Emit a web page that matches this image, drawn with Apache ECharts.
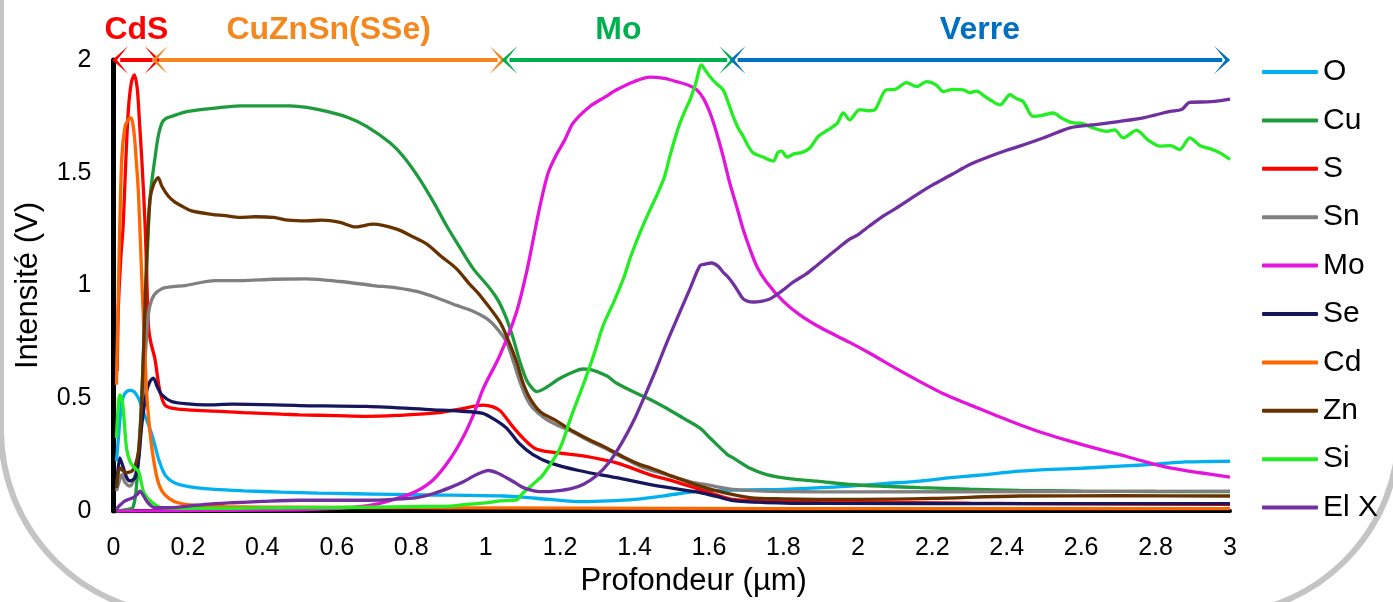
<!DOCTYPE html>
<html>
<head>
<meta charset="utf-8">
<script src="https://cdn.jsdelivr.net/npm/echarts@6/dist/echarts.min.js"></script>
<style>
  html, body { margin: 0; padding: 0; background: #fff; }
  #chart { width: 1393px; height: 602px; }
</style>
</head>
<body>
<div id="chart"></div>
<script>
// profondeur (µm) / intensité (V)
const elements = ['O', 'Cu', 'S', 'Sn', 'Mo', 'Se', 'Cd', 'Zn', 'Si', 'El X']

const oData = [[0.008,0.22],[0.015,0.36],[0.022,0.48],[0.03,0.52],[0.044,0.535],[0.055,0.53],[0.062,0.515],[0.07,0.49],[0.08,0.44],[0.09,0.40],[0.1,0.355],[0.11,0.30],[0.12,0.236],[0.13,0.19],[0.138,0.162],[0.15,0.14],[0.165,0.125],[0.183,0.115],[0.22,0.104],[0.273,0.096],[0.35,0.09],[0.45,0.084],[0.55,0.08],[0.65,0.077],[0.75,0.074],[0.86,0.071],[0.95,0.07],[1.05,0.067],[1.1,0.062],[1.17,0.052],[1.26,0.042],[1.33,0.045],[1.4,0.052],[1.48,0.068],[1.576,0.089],[1.7,0.094],[1.8,0.096],[1.9,0.104],[1.98,0.111],[2.07,0.122],[2.167,0.133],[2.25,0.148],[2.33,0.16],[2.435,0.177],[2.52,0.185],[2.6,0.19],[2.704,0.199],[2.8,0.208],[2.88,0.218],[2.95,0.22],[3.0,0.221]]

const cuData = [[0.008,0.0],[0.03,0.005],[0.045,0.01],[0.052,0.015],[0.06,0.08],[0.067,0.236],[0.075,0.48],[0.08,0.677],[0.087,0.98],[0.094,1.265],[0.1,1.42],[0.111,1.56],[0.12,1.66],[0.13,1.72],[0.14,1.74],[0.156,1.75],[0.2,1.772],[0.273,1.787],[0.34,1.797],[0.4,1.797],[0.474,1.797],[0.52,1.79],[0.573,1.772],[0.63,1.745],[0.68,1.706],[0.743,1.633],[0.78,1.57],[0.823,1.471],[0.86,1.37],[0.895,1.265],[0.93,1.17],[0.967,1.074],[1.012,0.986],[1.035,0.93],[1.056,0.853],[1.075,0.76],[1.092,0.662],[1.11,0.58],[1.125,0.545],[1.137,0.53],[1.16,0.545],[1.2,0.589],[1.24,0.62],[1.262,0.63],[1.28,0.628],[1.325,0.6],[1.352,0.567],[1.415,0.515],[1.442,0.495],[1.486,0.456],[1.531,0.412],[1.576,0.368],[1.603,0.324],[1.65,0.25],[1.665,0.236],[1.71,0.19],[1.755,0.162],[1.82,0.143],[1.89,0.133],[1.978,0.118],[2.07,0.11],[2.167,0.104],[2.3,0.097],[2.435,0.092],[2.6,0.089],[2.8,0.087],[3.0,0.086]]

const sData = [[0.01,0.62],[0.013,0.9],[0.02,1.13],[0.026,1.265],[0.033,1.55],[0.04,1.78],[0.048,1.9],[0.056,1.934],[0.064,1.87],[0.07,1.72],[0.076,1.56],[0.085,1.265],[0.094,0.82],[0.1,0.75],[0.111,0.677],[0.118,0.6],[0.125,0.53],[0.138,0.47],[0.16,0.455],[0.2,0.449],[0.273,0.443],[0.35,0.437],[0.45,0.43],[0.5,0.427],[0.6,0.423],[0.68,0.42],[0.76,0.424],[0.86,0.434],[0.93,0.452],[0.993,0.47],[1.02,0.462],[1.04,0.443],[1.07,0.38],[1.1,0.324],[1.13,0.28],[1.154,0.267],[1.2,0.257],[1.262,0.245],[1.352,0.214],[1.44,0.162],[1.5,0.135],[1.576,0.096],[1.62,0.072],[1.665,0.052],[1.75,0.046],[1.8,0.045],[2.0,0.04],[2.3,0.035],[2.6,0.032],[3.0,0.03]]

const snData = [[0.008,0.089],[0.015,0.13],[0.022,0.162],[0.03,0.13],[0.044,0.111],[0.055,0.14],[0.067,0.236],[0.075,0.4],[0.085,0.677],[0.092,0.84],[0.098,0.912],[0.11,0.96],[0.13,0.986],[0.16,0.995],[0.192,1.0],[0.273,1.022],[0.34,1.022],[0.43,1.028],[0.519,1.03],[0.609,1.018],[0.698,1.0],[0.76,0.99],[0.815,0.974],[0.87,0.945],[0.922,0.912],[0.96,0.89],[1.003,0.853],[1.03,0.81],[1.056,0.75],[1.075,0.66],[1.092,0.574],[1.11,0.5],[1.127,0.456],[1.16,0.41],[1.19,0.383],[1.235,0.35],[1.28,0.31],[1.325,0.275],[1.37,0.236],[1.42,0.195],[1.486,0.162],[1.55,0.13],[1.6,0.115],[1.665,0.096],[1.73,0.09],[1.8,0.087],[2.0,0.085],[2.5,0.087],[3.0,0.089]]

const moData = [[0.008,0.0],[0.3,0.003],[0.5,0.006],[0.6,0.012],[0.68,0.023],[0.75,0.05],[0.815,0.089],[0.86,0.14],[0.904,0.23],[0.94,0.33],[0.967,0.427],[0.994,0.545],[1.038,0.69],[1.083,0.883],[1.11,1.06],[1.128,1.206],[1.146,1.353],[1.168,1.5],[1.19,1.58],[1.213,1.647],[1.235,1.721],[1.28,1.794],[1.32,1.835],[1.352,1.868],[1.4,1.905],[1.441,1.924],[1.48,1.918],[1.513,1.904],[1.545,1.888],[1.567,1.868],[1.585,1.83],[1.603,1.765],[1.62,1.68],[1.638,1.574],[1.655,1.46],[1.674,1.353],[1.69,1.26],[1.71,1.162],[1.73,1.08],[1.755,1.015],[1.8,0.93],[1.844,0.87],[1.898,0.815],[1.978,0.748],[2.032,0.7],[2.1,0.635],[2.167,0.574],[2.23,0.52],[2.301,0.471],[2.37,0.425],[2.435,0.383],[2.5,0.345],[2.57,0.31],[2.64,0.278],[2.704,0.25],[2.77,0.22],[2.839,0.192],[2.92,0.17],[3.0,0.151]]

const seData = [[0.008,0.104],[0.017,0.236],[0.025,0.2],[0.035,0.15],[0.044,0.134],[0.058,0.148],[0.067,0.22],[0.076,0.383],[0.089,0.53],[0.098,0.575],[0.107,0.589],[0.118,0.55],[0.13,0.515],[0.156,0.486],[0.2,0.475],[0.246,0.471],[0.32,0.474],[0.5,0.468],[0.68,0.464],[0.86,0.449],[0.93,0.443],[0.99,0.434],[1.02,0.41],[1.056,0.368],[1.09,0.3],[1.127,0.25],[1.173,0.214],[1.25,0.18],[1.352,0.148],[1.45,0.115],[1.576,0.082],[1.62,0.065],[1.665,0.046],[1.75,0.038],[1.9,0.034],[2.5,0.033],[3.0,0.033]]

const cdData = [[0.008,0.56],[0.013,0.97],[0.022,1.56],[0.031,1.706],[0.04,1.735],[0.047,1.743],[0.055,1.68],[0.06,1.58],[0.067,1.41],[0.0775,0.97],[0.089,0.53],[0.098,0.35],[0.107,0.236],[0.118,0.14],[0.13,0.09],[0.15,0.055],[0.173,0.037],[0.22,0.026],[0.3,0.02],[0.5,0.017],[0.8,0.015],[1.0,0.014],[1.5,0.012],[2.0,0.011],[3.0,0.011]]

const znData = [[0.008,0.104],[0.017,0.192],[0.025,0.18],[0.031,0.17],[0.04,0.172],[0.049,0.177],[0.058,0.2],[0.067,0.265],[0.074,0.42],[0.08,0.677],[0.089,1.118],[0.098,1.383],[0.108,1.45],[0.12,1.478],[0.13,1.44],[0.147,1.397],[0.165,1.37],[0.183,1.353],[0.21,1.331],[0.264,1.316],[0.3,1.31],[0.34,1.302],[0.38,1.305],[0.43,1.302],[0.47,1.29],[0.519,1.287],[0.56,1.29],[0.609,1.28],[0.65,1.26],[0.698,1.272],[0.761,1.25],[0.8,1.22],[0.842,1.184],[0.88,1.13],[0.922,1.074],[0.955,1.01],[0.985,0.956],[1.038,0.839],[1.06,0.76],[1.083,0.662],[1.1,0.57],[1.119,0.5],[1.146,0.442],[1.19,0.4],[1.235,0.354],[1.28,0.315],[1.325,0.28],[1.37,0.24],[1.415,0.206],[1.442,0.192],[1.5,0.155],[1.576,0.111],[1.64,0.082],[1.71,0.06],[1.8,0.054],[1.89,0.052],[2.0,0.052],[2.2,0.056],[2.435,0.067],[2.7,0.068],[3.0,0.067]]

const siData = [[0.008,0.324],[0.012,0.45],[0.017,0.515],[0.022,0.5],[0.026,0.456],[0.03,0.37],[0.035,0.28],[0.042,0.23],[0.049,0.206],[0.058,0.19],[0.067,0.177],[0.073,0.14],[0.08,0.089],[0.09,0.06],[0.1,0.045],[0.115,0.025],[0.13,0.015],[0.2,0.012],[0.3,0.012],[0.4,0.014],[0.5,0.015],[0.6,0.016],[0.7,0.018],[0.8,0.02],[0.9,0.022],[0.95,0.03],[1.0,0.036],[1.04,0.045],[1.083,0.05],[1.1,0.08],[1.137,0.133],[1.155,0.162],[1.2,0.28],[1.23,0.42],[1.262,0.559],[1.29,0.69],[1.316,0.824],[1.345,0.93],[1.37,1.03],[1.39,1.13],[1.415,1.236],[1.44,1.33],[1.459,1.397],[1.48,1.48],[1.495,1.574],[1.51,1.66],[1.522,1.72],[1.537,1.78],[1.549,1.823],[1.565,1.9],[1.58,1.978],[1.59,1.955],[1.603,1.926],[1.62,1.895],[1.638,1.868],[1.652,1.81],[1.665,1.75],[1.678,1.7],[1.692,1.662],[1.705,1.62],[1.719,1.588],[1.745,1.57],[1.773,1.552],[1.785,1.59],[1.795,1.596],[1.81,1.57],[1.83,1.585],[1.85,1.59],[1.871,1.61],[1.894,1.662],[1.92,1.69],[1.945,1.72],[1.961,1.765],[1.978,1.735],[2.005,1.78],[2.03,1.775],[2.046,1.78],[2.077,1.868],[2.1,1.87],[2.131,1.9],[2.158,1.882],[2.185,1.904],[2.21,1.89],[2.23,1.86],[2.255,1.87],[2.283,1.868],[2.3,1.855],[2.319,1.862],[2.34,1.84],[2.355,1.824],[2.382,1.801],[2.409,1.846],[2.425,1.83],[2.444,1.816],[2.471,1.75],[2.495,1.755],[2.525,1.765],[2.55,1.74],[2.579,1.721],[2.6,1.72],[2.63,1.7],[2.669,1.684],[2.69,1.69],[2.713,1.655],[2.749,1.688],[2.78,1.645],[2.812,1.618],[2.84,1.62],[2.865,1.603],[2.892,1.655],[2.92,1.62],[2.95,1.605],[2.973,1.588],[3.0,1.559]]

const elxData = [[0.008,0.01],[0.02,0.03],[0.031,0.045],[0.045,0.055],[0.053,0.06],[0.065,0.075],[0.071,0.089],[0.078,0.075],[0.089,0.045],[0.1,0.025],[0.111,0.015],[0.156,0.015],[0.2,0.022],[0.246,0.03],[0.32,0.037],[0.4,0.043],[0.5,0.048],[0.6,0.048],[0.68,0.048],[0.75,0.052],[0.815,0.06],[0.86,0.078],[0.904,0.104],[0.94,0.13],[0.967,0.155],[0.99,0.172],[1.007,0.18],[1.03,0.17],[1.056,0.148],[1.08,0.125],[1.101,0.104],[1.13,0.09],[1.155,0.086],[1.19,0.09],[1.23,0.1],[1.262,0.118],[1.3,0.16],[1.334,0.221],[1.365,0.3],[1.397,0.398],[1.43,0.52],[1.459,0.633],[1.49,0.76],[1.522,0.883],[1.55,0.99],[1.576,1.088],[1.59,1.095],[1.607,1.1],[1.625,1.085],[1.638,1.059],[1.65,1.04],[1.665,1.008],[1.68,0.97],[1.692,0.941],[1.705,0.93],[1.719,0.927],[1.74,0.93],[1.764,0.941],[1.795,0.975],[1.826,1.015],[1.86,1.05],[1.889,1.088],[1.92,1.13],[1.95,1.17],[1.978,1.206],[2.0,1.225],[2.032,1.265],[2.07,1.31],[2.1,1.34],[2.167,1.412],[2.2,1.445],[2.25,1.49],[2.301,1.537],[2.35,1.57],[2.4,1.6],[2.435,1.618],[2.5,1.655],[2.57,1.699],[2.63,1.712],[2.704,1.728],[2.77,1.745],[2.839,1.772],[2.87,1.78],[2.892,1.812],[2.95,1.815],[3.0,1.827]]

// couches de l'empilement (début / fin en µm)
const layerNames = ['CdS', 'CuZnSn(SSe)', 'Mo', 'Verre']
const layerStart = [0.018, 0.124, 1.064, 1.677]
const layerEnd = [0.105, 1.032, 1.649, 2.979]

const profiles = [oData, cuData, sData, snData, moData, seData, cdData, znData, siData, elxData]
const lineColors = ['#00B0F0', '#1E9B3C', '#FF0000', '#808080', '#E414DC', '#16165C', '#FF6600', '#663300', '#22EE22', '#7030A0']
const layerColors = ['#FF0000', '#F5871F', '#00B050', '#0070C0']

const font = 'Liberation Sans, Arial, sans-serif'
// pointe de flèche fine, comme dans la figure d'origine
const arrowHead = 'path://M0,0 L10,10 L0,3 L-10,10 Z'

const chart = echarts.init(document.getElementById('chart'))

const series = elements.map((name, i) => {
  return {
    name: name,
    type: 'line',
    data: profiles[i],
    showSymbol: false,
    smooth: 0.3,
    lineStyle: { color: lineColors[i], width: 3.3 },
    itemStyle: { color: lineColors[i] },
    z: 3
  }
})

// flèches des couches en haut du graphe
series.push({
  name: 'couches',
  type: 'line',
  data: [],
  clip: false,
  markLine: {
    silent: true,
    symbol: [arrowHead, arrowHead],
    symbolSize: [28, 16],
    data: layerNames.map((name, i) => {
      return [
        {
          name: name,
          coord: [layerStart[i], 2],
          lineStyle: { color: layerColors[i], width: 4, type: 'solid' },
          itemStyle: { color: layerColors[i] },
          label: {
            show: true,
            formatter: name,
            position: 'insideMiddleTop',
            distance: 14,
            color: layerColors[i],
            fontSize: 32,
            fontWeight: 'bold',
            fontFamily: font
          }
        },
        { coord: [layerEnd[i], 2] }
      ]
    })
  }
})

const option = {
  backgroundColor: '#fff',
  animation: false,
  textStyle: { fontFamily: font },
  grid: { left: 113.5, right: 163, top: 60, bottom: 88.5 },
  xAxis: {
    type: 'value',
    min: 0,
    max: 3,
    interval: 0.2,
    name: 'Profondeur (µm)',
    nameLocation: 'middle',
    nameGap: 54,
    nameTextStyle: { color: '#000', fontSize: 31, fontFamily: font, padding: [0, 0, 0, 44] },
    axisLine: { lineStyle: { color: '#000', width: 4 } },
    axisTick: { show: false },
    splitLine: { show: false },
    axisLabel: { color: '#000', fontSize: 25, margin: 25, fontFamily: font }
  },
  yAxis: {
    type: 'value',
    min: 0,
    max: 2,
    interval: 0.5,
    name: 'Intensité (V)',
    nameLocation: 'middle',
    nameGap: 70,
    nameTextStyle: { color: '#000', fontSize: 31, fontFamily: font },
    axisLine: { show: true, lineStyle: { color: '#000', width: 5 } },
    axisTick: { show: false },
    splitLine: { show: false },
    axisLabel: { color: '#000', fontSize: 25, margin: 22, fontFamily: font }
  },
  legend: {
    data: elements,
    orient: 'vertical',
    left: 1257,
    top: 52,
    icon: 'roundRect',
    itemWidth: 56,
    itemHeight: 4,
    itemGap: 18.4,
    textStyle: { color: '#000', fontSize: 30, lineHeight: 30, fontFamily: font }
  },
  // cadre gris arrondi autour de la figure
  graphic: [{
    type: 'rect',
    z: -10,
    silent: true,
    shape: { x: 1, y: -400, width: 1398, height: 1015, r: 185 },
    style: { fill: 'none', stroke: '#C4C4C4', lineWidth: 6 }
  }],
  series: series
}

chart.setOption(option)
</script>
</body>
</html>
